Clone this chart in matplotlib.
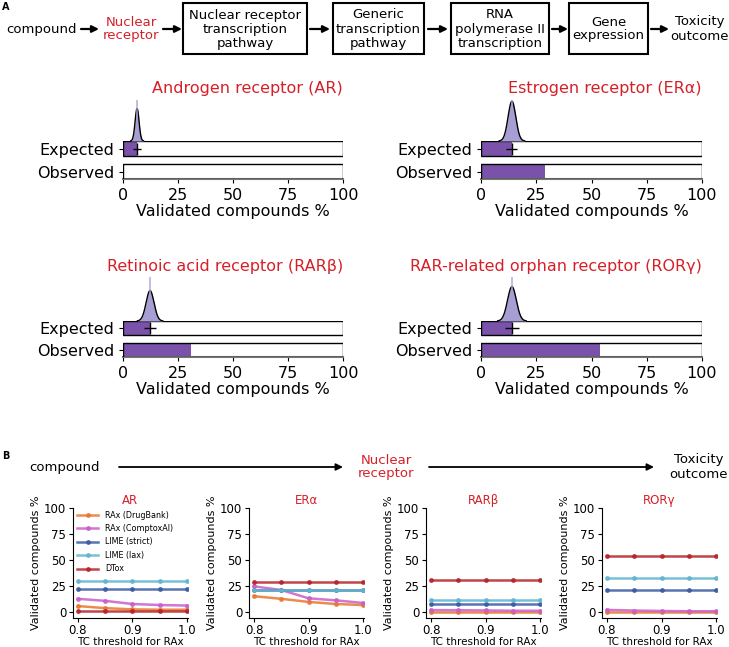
import numpy as np
import matplotlib
matplotlib.use('Agg')
import matplotlib.pyplot as plt
from matplotlib.patches import Rectangle

W, H = 729, 647

# Panel A data
receptors = ['Androgen receptor (AR)', 'Estrogen receptor (ER\u03b1)',
             'Retinoic acid receptor (RAR\u03b2)', 'RAR-related orphan receptor (ROR\u03b3)']
expected = [6.4, 14.0, 12.3, 14.0]
expected_err = [2.0, 2.5, 2.7, 3.3]
observed = [0.4, 29.0, 31.0, 54.0]
kde_sd = [0.9, 1.75, 1.8, 2.0]        # spread of the expected distribution
kde_peak = [0.79, 0.97, 0.69, 0.78]   # peak height relative to panel

# Panel B data
thresholds = [0.8, 0.85, 0.9, 0.95, 1.0]
short_names = ['AR', 'ER\u03b1', 'RAR\u03b2', 'ROR\u03b3']
methods = ['RAx (DrugBank)', 'RAx (ComptoxAI)', 'LIME (strict)', 'LIME (lax)', 'DTox']
rax_drugbank = [[5.5, 3.5, 2.3, 2.0, 2.0],
                [15.0, 12.5, 9.5, 7.5, 6.5],
                [0.0, 0.0, 0.0, 0.0, 0.0],
                [0.0, 0.0, 0.0, 0.0, 0.0]]
rax_comptox = [[12.5, 10.5, 7.5, 6.5, 6.0],
               [24.5, 21.0, 13.0, 11.0, 8.5],
               [1.6, 1.5, 1.3, 1.0, 1.0],
               [1.8, 1.2, 0.8, 0.5, 0.5]]
lime_strict = [[22.0] * 5, [20.5] * 5, [7.7] * 5, [21.3] * 5]
lime_lax = [[29.5] * 5, [20.5] * 5, [11.2] * 5, [32.6] * 5]
dtox = [[0.5] * 5, [29.0] * 5, [31.0] * 5, [54.2] * 5]

RED = '#d62028'
PURPLE = '#7a52aa'
LAVENDER = '#a79fd3'
method_colors = ['#e8772e', '#c95fc8', '#3b5ba5', '#62b5cf', '#b5242a']

fig = plt.figure(figsize=(W / 100, H / 100), dpi=100)


def px_axes(l, t, r, b):
    return fig.add_axes([l / W, 1 - b / H, (r - l) / W, (b - t) / H])


# overlay in pixel coordinates for the pathway diagrams
ov = px_axes(0, 0, W, H)
ov.set_xlim(0, W)
ov.set_ylim(H, 0)
ov.axis('off')

ov.text(2, 7, 'A', fontsize=7, fontweight='bold', va='center')
ov.text(2, 456, 'B', fontsize=7, fontweight='bold', va='center')

fs = 9.5
ytop = 29
ov.text(42, ytop, 'compound', fontsize=fs, ha='center', va='center')
ov.text(131, ytop, 'Nuclear\nreceptor', fontsize=fs, ha='center', va='center',
        color=RED, linespacing=1.1)
boxes = [(183, 307, 'Nuclear receptor\ntranscription\npathway'),
         (333, 424, 'Generic\ntranscription\npathway'),
         (451, 549, 'RNA\npolymerase II\ntranscription'),
         (569, 648, 'Gene\nexpression')]
for x0, x1, label in boxes:
    ov.add_patch(Rectangle((x0, 3), x1 - x0, 51, fill=False, edgecolor='black', lw=1.5))
    ov.text((x0 + x1) / 2, ytop, label, fontsize=fs, ha='center', va='center', linespacing=1.1)
ov.text(700, ytop, 'Toxicity\noutcome', fontsize=fs, ha='center', va='center', linespacing=1.1)

top_arrows = [(81, 99), (163, 182), (310, 330), (428, 448), (552, 568), (651, 669)]
for x0, x1 in top_arrows:
    ov.annotate('', xy=(x1, ytop), xytext=(x0, ytop),
                arrowprops=dict(arrowstyle='-|>', color='black', lw=1.6, mutation_scale=10,
                                shrinkA=0, shrinkB=0))

yb = 467
ov.text(65, yb, 'compound', fontsize=fs, ha='center', va='center')
ov.text(386, yb, 'Nuclear\nreceptor', fontsize=fs, ha='center', va='center',
        color=RED, linespacing=1.1)
ov.text(699, yb, 'Toxicity\noutcome', fontsize=fs, ha='center', va='center', linespacing=1.1)
for x0, x1 in [(119, 343), (429, 654)]:
    ov.annotate('', xy=(x1, yb), xytext=(x0, yb),
                arrowprops=dict(arrowstyle='-|>', color='black', lw=1.3, mutation_scale=10,
                                shrinkA=0, shrinkB=0))

# Panel A
bar_boxes = [(123, 141, 343, 179), (481, 141, 702, 179),
             (123, 321, 343, 357), (481, 321, 702, 357)]
kde_tops = [100, 100, 277, 277]
title_y = [88, 88, 267, 267]
h = 15 / 23
for i, (l, t, r, b) in enumerate(bar_boxes):
    ax = px_axes(l, t, r, b)
    ypos = [1, 0]
    vals = [expected[i], observed[i]]
    ax.barh(ypos, vals, height=h, color=PURPLE, edgecolor='none', zorder=2)
    ax.barh(ypos, [100, 100], height=h, facecolor='none', edgecolor='black', lw=1, zorder=3)
    ax.errorbar(expected[i], 1, xerr=expected_err[i], color='black', lw=1, capsize=0,
                marker='|', ms=9, mew=1, zorder=4)
    ax.set_xlim(0, 100)
    ax.set_ylim(-h / 2, 1 + h / 2)
    ax.set_yticks(ypos)
    ax.set_yticklabels(['Expected', 'Observed'])
    ax.set_xticks([0, 25, 50, 75, 100])
    ax.tick_params(labelsize=11.5, length=3)
    ax.set_xlabel('Validated compounds %', fontsize=11.5, labelpad=1)
    for s in ['top', 'right', 'left']:
        ax.spines[s].set_visible(False)
    ax.spines['bottom'].set_color('#777777')
    ax.spines['bottom'].set_linewidth(1.5)
    ax.patch.set_alpha(0)

    kax = px_axes(l, kde_tops[i], r, t)
    xs = np.linspace(0, 100, 2000)
    dens = np.exp(-0.5 * ((xs - expected[i]) / kde_sd[i]) ** 2) * kde_peak[i]
    mask = dens > 0.004
    kax.fill_between(xs[mask], 0, dens[mask], color=LAVENDER, lw=0)
    kax.plot(xs[mask], dens[mask], color='black', lw=1)
    kax.axvline(expected[i], color=LAVENDER, lw=1.2, alpha=0.8)
    kax.set_xlim(0, 100)
    kax.set_ylim(0, 1)
    kax.axis('off')

    ov.text(r, title_y[i], receptors[i], fontsize=11.5, color=RED, ha='right', va='center')

# Panel B
series = [rax_drugbank, rax_comptox, lime_strict, lime_lax, dtox]
zero_pos = [78, 254, 431, 607]
ppu = 545
for i, x08 in enumerate(zero_pos):
    l = x08 - 0.01 * ppu
    r = x08 + 0.202 * ppu
    ax = px_axes(l, 508, r, 618)
    for k, data in enumerate(series):
        ax.plot(thresholds, data[i], color=method_colors[k], lw=1.8, marker='o', ms=2.5,
                alpha=0.85, label=methods[k])
    ax.set_xlim(0.79, 1.002)
    ax.set_ylim(-6, 100)
    ax.set_xticks([0.8, 0.9, 1.0])
    ax.set_yticks([0, 25, 50, 75, 100])
    ax.tick_params(labelsize=8.5, length=3, pad=1.5)
    ax.set_xlabel('TC threshold for RAx', fontsize=7.5, labelpad=0)
    ax.set_ylabel('Validated compounds %', fontsize=8, labelpad=2)
    ax.set_title(short_names[i], fontsize=8.5, color=RED, pad=3)
    ax.spines['top'].set_visible(False)
    ax.spines['right'].set_visible(False)
    ax.patch.set_alpha(0)
    if i == 0:
        ax.legend(loc='upper left', bbox_to_anchor=(0.0, 1.02), fontsize=5.8, frameon=False,
                  handlelength=2.6, labelspacing=0.55, borderaxespad=0.2)

fig.savefig('out.png', dpi=100)
